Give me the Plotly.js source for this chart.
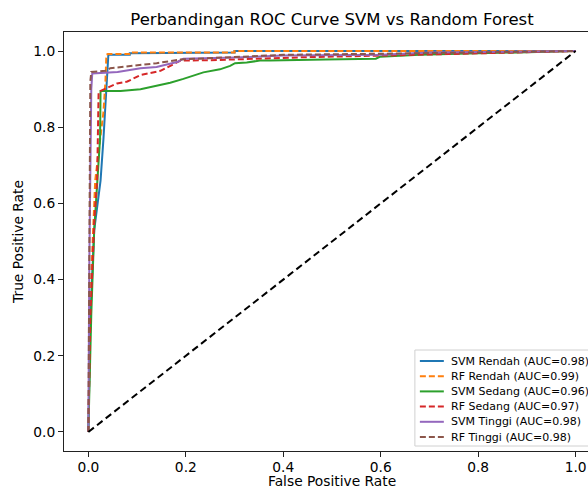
<!DOCTYPE html>
<html>
<head>
<meta charset="utf-8">
<script src="https://cdn.plot.ly/plotly-3.0.1.min.js"></script>
<style>
html,body{margin:0;padding:0;overflow:hidden;background:#fff;width:588px;height:489px;}
#chart{width:620px;height:489px;}
</style>
</head>
<body>
<div id="chart"></div>
<script>
// ROC curves
const svmRendahFpr = [0, 0.004, 0.012, 0.025, 0.031, 0.038, 0.040, 0.041, 0.085, 0.085, 0.30, 0.30, 1.0];
const svmRendahTpr = [0, 0.30, 0.53, 0.66, 0.77, 0.92, 0.98, 0.99, 0.99, 0.994, 0.996, 1.0, 1.0];

const rfRendahFpr = [0, 0.004, 0.014, 0.031, 0.035, 0.037, 0.040, 0.084, 0.084, 0.30, 0.30, 1.0];
const rfRendahTpr = [0, 0.35, 0.66, 0.84, 0.92, 0.99, 0.992, 0.992, 0.996, 0.996, 1.0, 1.0];

const svmSedangFpr = [0, 0.006, 0.012, 0.020, 0.024, 0.025, 0.066, 0.107, 0.127, 0.168, 0.195, 0.236, 0.27, 0.291, 0.301, 0.325, 0.352, 0.373, 0.486, 0.59, 0.598, 0.68, 0.8, 1.0];
const svmSedangTpr = [0, 0.31, 0.53, 0.70, 0.77, 0.895, 0.895, 0.900, 0.905, 0.917, 0.927, 0.944, 0.952, 0.961, 0.968, 0.970, 0.975, 0.975, 0.978, 0.980, 0.985, 0.990, 0.994, 1.0];

const rfSedangFpr = [0, 0.004, 0.012, 0.018, 0.021, 0.059, 0.080, 0.107, 0.148, 0.189, 0.25, 0.30, 0.393, 0.45, 0.6, 0.8, 0.95, 1.0];
const rfSedangTpr = [0, 0.30, 0.55, 0.66, 0.893, 0.915, 0.920, 0.937, 0.948, 0.975, 0.976, 0.978, 0.980, 0.984, 0.988, 0.993, 0.998, 1.0];

const svmTinggiFpr = [0, 0.002, 0.006, 0.008, 0.06, 0.107, 0.14, 0.184, 0.195, 0.3, 0.4, 0.6, 0.7, 1.0];
const svmTinggiTpr = [0, 0.45, 0.90, 0.941, 0.945, 0.955, 0.958, 0.972, 0.980, 0.983, 0.988, 0.990, 0.996, 1.0];

const rfTinggiFpr = [0, 0.002, 0.004, 0.006, 0.035, 0.045, 0.107, 0.14, 0.189, 0.3, 0.4, 0.6, 0.8, 1.0];
const rfTinggiTpr = [0, 0.5, 0.92, 0.945, 0.948, 0.955, 0.963, 0.968, 0.978, 0.984, 0.990, 0.993, 0.996, 1.0];

const diagonal = [0, 1];

const seriesNames = ["SVM Rendah (AUC=0.98)", "RF Rendah (AUC=0.99)", "SVM Sedang (AUC=0.96)", "RF Sedang (AUC=0.97)", "SVM Tinggi (AUC=0.98)", "RF Tinggi (AUC=0.98)"];
const xTicks = [0, 0.2, 0.4, 0.6, 0.8, 1.0];
const xTickLabels = ["0.0", "0.2", "0.4", "0.6", "0.8", "1.0"];

const colors = ["#1f77b4", "#ff7f0e", "#2ca02c", "#d62728", "#9467bd", "#8c564b"];
const dashes = ["solid", "6px,3px", "solid", "6px,3px", "solid", "6px,3px"];
const xs = [svmRendahFpr, rfRendahFpr, svmSedangFpr, rfSedangFpr, svmTinggiFpr, rfTinggiFpr];
const ys = [svmRendahTpr, rfRendahTpr, svmSedangTpr, rfSedangTpr, svmTinggiTpr, rfTinggiTpr];

const traces = xs.map((x, i) => ({
  x: x, y: ys[i], type: "scatter", mode: "lines", name: seriesNames[i], showlegend: false,
  line: {color: colors[i], width: 2, dash: dashes[i]}
}));
traces.push({
  x: diagonal, y: diagonal, type: "scatter", mode: "lines", showlegend: false,
  line: {color: "#000", width: 2, dash: "7px,4px"}
});

// legend box (matplotlib-style, lower right) built from shapes + text
const W = 620, H = 489, ML = 63.6, MR = 19.6, MT = 32, MB = 38;
const pw = W - ML - MR, ph = H - MT - MB;
const px2x = p => (p - ML) / pw;
const py2y = p => (H - MB - p) / ph;
const shapes = [{
  type: "rect", xref: "paper", yref: "paper",
  x0: px2x(415), x1: px2x(594), y0: py2y(446), y1: py2y(350),
  fillcolor: "rgba(255,255,255,0.85)", line: {color: "#d0d0d0", width: 1}
}];
const font = {family: "DejaVu Sans, sans-serif", color: "#000"};
const annotations = [];
seriesNames.forEach((name, i) => {
  const rowY = py2y(361 + 15.2 * i);
  shapes.push({type: "line", xref: "paper", yref: "paper", x0: px2x(420), x1: px2x(444), y0: rowY, y1: rowY,
    line: {color: colors[i], width: 2, dash: dashes[i]}});
  annotations.push({xref: "paper", yref: "paper", x: px2x(449), y: rowY, xanchor: "left", yanchor: "middle",
    text: name, showarrow: false, font: Object.assign({}, font, {size: 11})});
});
// x axis title placed as text below the tick labels
annotations.push({xref: "paper", yref: "paper", x: 0.5, y: py2y(481.5), xanchor: "center", yanchor: "middle",
  text: "False Positive Rate", showarrow: false, font: Object.assign({}, font, {size: 13.8})});

const layout = {
  width: W, height: H,
  margin: {l: ML, r: MR, t: MT, b: MB, pad: 0},
  paper_bgcolor: "#fff", plot_bgcolor: "#fff",
  font: Object.assign({}, font, {size: 13.8}),
  title: {text: "Perbandingan ROC Curve SVM vs Random Forest", font: Object.assign({}, font, {size: 16.5}),
    x: 332 / W, xanchor: "center", y: 1 - 19 / H, yanchor: "middle"},
  xaxis: {
    range: [-0.05, 1.05], tickvals: xTicks, ticktext: xTickLabels,
    showgrid: false, zeroline: false, showline: true, mirror: true, linecolor: "#222", linewidth: 1,
    ticks: "outside", ticklen: 5, tickcolor: "#222", tickfont: Object.assign({}, font, {size: 13.8}),
    ticklabelstandoff: -2
  },
  yaxis: {
    range: [-0.05, 1.05], tickvals: xTicks, ticktext: xTickLabels,
    showgrid: false, zeroline: false, showline: true, mirror: true, linecolor: "#222", linewidth: 1,
    ticks: "outside", ticklen: 5, tickcolor: "#222", tickfont: Object.assign({}, font, {size: 13.8}),
    title: {text: "True Positive Rate", font: Object.assign({}, font, {size: 13.8}), standoff: 6}
  },
  showlegend: false,
  shapes: shapes,
  annotations: annotations
};
Plotly.newPlot("chart", traces, layout, {displayModeBar: false, responsive: false});
</script>
</body>
</html>
